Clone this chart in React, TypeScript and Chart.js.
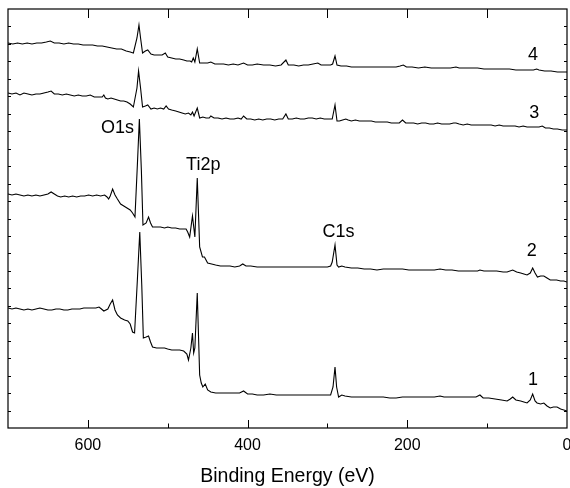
import { useEffect, useRef } from "react";
import { Chart, registerables } from "chart.js";

Chart.register(...registerables);

// ---- data: [binding energy (eV), intensity (a.u.)] for each spectrum ----
const spectrum1: [number, number][] = [
  [700, 120], [695, 119], [690, 120], [685, 119], [680, 118], [675, 119], [670, 118], [665, 119], [660, 120], [655, 119],
  [650, 118], [645, 118], [640, 119], [635, 119], [630, 118], [625, 118], [620, 119], [615, 119], [610, 119], [605, 120],
  [600, 120], [595, 120], [590, 120], [586, 121], [583, 119], [580, 117], [575, 119], [572, 124], [569, 128], [566, 118],
  [563, 113], [559, 110], [554, 108], [550, 107], [547, 104], [544, 96], [541.5, 95], [538, 148], [535, 196], [532.5, 143],
  [530.5, 90], [527, 91], [524, 92], [521.5, 86], [519, 81], [514, 80], [509, 80], [504, 80], [500, 79], [495, 78],
  [490, 78], [485, 78], [480, 77], [476, 74], [474, 68], [471, 80], [469, 95], [467.5, 75], [466, 80], [463, 135],
  [460, 53], [458, 45], [456, 41], [453, 44], [450, 38], [446, 36], [440, 35], [434, 35], [428, 35], [422, 35],
  [416, 35], [410, 35], [405, 37], [400, 34], [394, 34], [388, 33], [380, 33], [372, 34], [364, 33], [356, 33],
  [348, 33], [340, 33], [332, 33], [324, 33], [316, 33], [308, 33], [300, 33], [296, 33], [293, 41], [290.5, 61],
  [288.5, 41], [286, 31], [282, 33], [278, 32], [270, 31], [262, 31], [254, 31], [246, 31], [238, 31], [230, 31],
  [222, 30], [214, 30], [206, 31], [198, 31], [190, 31], [182, 31], [174, 31], [166, 31], [159, 32], [154, 31],
  [146, 31], [138, 31], [130, 31], [122, 31], [114, 31], [109, 33], [105, 30], [98, 30], [90, 29], [82, 28],
  [75, 27], [71, 29], [68, 31], [64, 28], [58, 27], [54, 26], [50, 25], [46, 28], [43, 34], [40, 27],
  [37.5, 25], [33, 24], [29, 25], [25, 22], [21, 20], [17, 21], [12.5, 21], [8, 19], [4, 18], [0, 17],
];

const spectrum2: [number, number][] = [
  [700, 234], [695, 233], [690, 234], [685, 233], [680, 232], [675, 233], [670, 232], [665, 233], [660, 232], [655, 233],
  [650, 234], [646, 236], [642, 234], [638, 232], [634, 231], [629, 232], [624, 231], [619, 232], [614, 231], [609, 232],
  [604, 232], [599, 233], [594, 232], [589, 233], [584, 232], [579, 233], [576, 231], [574, 229], [572, 232], [569, 239],
  [566, 233], [563, 229], [559, 224], [555, 222], [551, 220], [547, 218], [544, 215], [541, 211], [538, 263], [535.5, 309],
  [533, 258], [531, 203], [527, 205], [524, 211], [521.5, 205], [519, 201], [514, 201], [509, 201], [504, 200], [500, 201],
  [495, 200], [490, 200], [485, 199], [480, 199], [477, 199], [475, 196], [472.5, 191], [469, 212], [466, 191], [463, 250],
  [460, 181], [456.5, 171], [454, 171], [450, 165], [445, 164], [440, 163], [434, 162], [428, 162], [422, 162], [416, 161],
  [410, 162], [406, 164], [402, 162], [396, 162], [388, 161], [380, 161], [372, 161], [364, 161], [356, 161], [348, 161],
  [340, 161], [332, 161], [324, 161], [316, 161], [308, 161], [300, 161], [296, 162], [294, 166], [290.5, 183], [288, 163],
  [286, 161], [282, 162], [278, 161], [270, 160], [262, 160], [254, 159], [246, 159], [238, 158], [230, 159], [222, 159],
  [214, 159], [206, 159], [198, 158], [190, 158], [182, 158], [174, 158], [166, 158], [159, 159], [152, 158], [144, 158],
  [136, 157], [128, 157], [120, 157], [112, 157], [109, 158], [104, 157], [96, 157], [88, 157], [80, 156], [75, 156],
  [68, 158], [63, 156], [58, 155], [54, 154], [50, 153], [46, 155], [43, 160], [40, 155], [37, 151], [33, 152],
  [29, 152], [25, 150], [21, 148], [17, 148], [13, 148], [8, 147], [4, 147], [0, 146],
];

const spectrum3: [number, number][] = [
  [700, 335], [695, 334], [690, 335], [685, 333], [680, 335], [675, 334], [670, 333], [665, 334], [660, 334], [655, 335],
  [650, 336], [646, 337], [642, 334], [637, 334], [632, 333], [627, 334], [622, 333], [617, 332], [612, 333], [607, 332],
  [602, 332], [597, 333], [592, 331], [587, 331], [582, 331], [580, 333], [578, 330], [575, 329], [571, 330], [567, 329],
  [563, 328], [559, 327], [555, 327], [551, 326], [547, 324], [543, 321], [538.5, 340], [536.5, 357], [534, 340], [531.5, 321],
  [528, 322], [525, 323], [521, 319], [517, 320], [513, 319], [509, 320], [505, 319], [502, 322], [499, 319], [495, 318],
  [490, 317], [486, 316], [482, 315], [478, 314], [474, 315], [471, 313], [469, 316], [467, 312], [463, 320], [460, 310],
  [456, 311], [452, 310], [448, 310], [446, 312], [442, 310], [437, 310], [432, 309], [427, 310], [422, 309], [417, 309],
  [412, 310], [408, 309], [405, 312], [401, 309], [396, 309], [391, 308], [386, 309], [381, 308], [376, 309], [371, 309],
  [366, 308], [361, 309], [356, 309], [352, 314], [349, 309], [344, 309], [339, 310], [334, 309], [329, 309], [324, 310],
  [319, 310], [314, 309], [309, 310], [304, 309], [300, 309], [294, 309], [290.5, 323], [288, 307], [285, 307], [281, 308],
  [277, 309], [274, 308], [270, 307], [265, 308], [260, 307], [255, 307], [250, 307], [245, 307], [240, 306], [235, 306],
  [230, 306], [225, 306], [220, 305], [215, 305], [210, 305], [206, 308], [202, 305], [197, 305], [192, 305], [187, 304],
  [182, 305], [177, 305], [172, 304], [167, 304], [162, 305], [157, 304], [152, 304], [147, 304], [142, 305], [139, 305],
  [135, 304], [130, 303], [125, 304], [120, 303], [115, 303], [110, 303], [105, 303], [100, 303], [95, 303], [90, 302],
  [85, 303], [80, 302], [75, 302], [70, 302], [65, 302], [60, 301], [55, 302], [50, 301], [45, 301], [40, 301],
  [35, 301], [31, 302], [27, 300], [22, 300], [17, 299], [12, 299], [6, 298], [0, 298],
];

const spectrum4: [number, number][] = [
  [700, 385], [694, 384], [688, 385], [682, 384], [676, 385], [670, 384], [664, 385], [658, 385], [652, 386], [647, 387],
  [642, 385], [636, 385], [630, 384], [624, 385], [618, 384], [612, 384], [606, 383], [600, 383], [594, 383], [588, 382],
  [582, 382], [576, 381], [570, 380], [564, 379], [558, 379], [552, 377], [547, 376], [543, 375], [538.5, 390], [536, 403],
  [534, 390], [531.5, 375], [528, 377], [525, 378], [521, 374], [517, 373], [512, 373], [507, 373], [503, 375], [500, 371],
  [495, 370], [490, 369], [485, 369], [480, 368], [476, 367], [472, 367], [470, 366], [468, 370], [466, 366], [463, 379],
  [460, 365], [455, 365], [450, 365], [446, 366], [441, 364], [435, 364], [430, 364], [424, 363], [418, 364], [412, 363],
  [405, 365], [400, 363], [394, 363], [388, 364], [380, 363], [372, 363], [365, 362], [358, 363], [352, 368], [349, 363],
  [342, 363], [336, 362], [330, 363], [324, 363], [318, 364], [312, 365], [308, 363], [302, 363], [296, 363], [293.5, 364],
  [290.5, 372], [288, 363], [283, 362], [276, 362], [270, 361], [262, 361], [254, 361], [246, 361], [238, 361], [230, 361],
  [222, 361], [214, 361], [209, 362], [205, 363], [201, 361], [194, 361], [186, 360], [178, 361], [170, 360], [162, 360],
  [154, 360], [146, 360], [139, 361], [135, 360], [128, 360], [120, 360], [112, 360], [104, 359], [96, 359], [88, 359],
  [80, 359], [72, 359], [64, 358], [56, 358], [48, 358], [42, 358], [38, 359], [35, 358], [28, 357], [20, 357],
  [12, 356], [6, 356], [0, 356],
];

const xTickValues = [600, 400, 200, 0];
const xMinorTickValues = [700, 500, 300, 100];
const xAxisTitle = "Binding Energy (eV)";

const labelTexts = ["O1s", "Ti2p", "C1s", "4", "3", "2", "1"];
const labelEnergy = [563, 455.5, 286, 42.5, 41, 44, 42.5];
const labelCounts = [295, 258, 191, 368, 310, 172, 43];

const Y_MAX = 419;
const FONT = "'Liberation Sans', Arial, Helvetica, sans-serif";

const toPoints = (s: [number, number][]) => s.map(([x, y]) => ({ x, y }));

const framePlugin = {
  id: "xpsFrame",
  afterDatasetsDraw(chart: any) {
    const { ctx, chartArea } = chart;
    const { left, right, top, bottom } = chartArea;
    const xs = chart.scales.x;
    const ys = chart.scales.y;
    ctx.save();
    ctx.strokeStyle = "#000";
    ctx.lineWidth = 1.2;
    ctx.strokeRect(left, top, right - left, bottom - top);
    ctx.lineWidth = 1;
    ctx.beginPath();
    const all = [...xTickValues, ...xMinorTickValues];
    for (const v of all) {
      const px = Math.round(xs.getPixelForValue(v)) + 0.5;
      if (px <= left + 1 || px >= right - 1) continue;
      const major = xTickValues.includes(v);
      ctx.moveTo(px, bottom);
      ctx.lineTo(px, bottom - (major ? 8 : 4.5));
      ctx.moveTo(px, top);
      ctx.lineTo(px, top + 9);
    }
    for (let i = 1; i < 24; i++) {
      const py = Math.round(ys.getPixelForValue((i * Y_MAX) / 24)) + 0.5;
      ctx.moveTo(left, py);
      ctx.lineTo(left + 3, py);
      ctx.moveTo(right, py);
      ctx.lineTo(right - 3, py);
    }
    ctx.stroke();

    ctx.fillStyle = "#000";
    ctx.font = `18px ${FONT}`;
    ctx.textAlign = "center";
    ctx.textBaseline = "alphabetic";
    labelTexts.forEach((t, i) => {
      ctx.fillText(t, xs.getPixelForValue(labelEnergy[i]), ys.getPixelForValue(labelCounts[i]));
    });
    ctx.restore();
  },
};

export default function App() {
  const ref = useRef<HTMLCanvasElement | null>(null);
  useEffect(() => {
    if (!ref.current) return;
    const lineStyle = {
      borderColor: "#000",
      borderWidth: 1.1,
      pointRadius: 0,
      tension: 0,
      fill: false,
    };
    const chart = new Chart(ref.current, {
      type: "line",
      data: {
        datasets: [
          { label: "1", data: toPoints(spectrum1), ...lineStyle },
          { label: "2", data: toPoints(spectrum2), ...lineStyle },
          { label: "3", data: toPoints(spectrum3), ...lineStyle },
          { label: "4", data: toPoints(spectrum4), ...lineStyle },
        ],
      },
      options: {
        animation: false,
        responsive: false,
        devicePixelRatio: 1,
        layout: { padding: { left: 8, right: 3, top: 9, bottom: 0 } },
        plugins: { legend: { display: false }, tooltip: { enabled: false } },
        scales: {
          x: {
            type: "linear",
            min: 0,
            max: 700,
            reverse: true,
            position: "bottom",
            grid: { display: false, drawTicks: false },
            border: { display: false },
            ticks: {
              color: "#000",
              font: { size: 16, family: FONT },
              padding: 8,
              maxRotation: 0,
              autoSkip: false,
            },
            title: {
              display: true,
              text: xAxisTitle,
              color: "#000",
              font: { size: 19.5, family: FONT },
              padding: { top: 0, bottom: 0 },
            },
            afterBuildTicks: (s: any) => {
              s.ticks = xTickValues.map((v) => ({ value: v }));
            },
            afterFit: (s: any) => {
              s.height = 60;
              s.paddingLeft = 0;
              s.paddingRight = 0;
            },
          },
          y: {
            type: "linear",
            display: false,
            min: 0,
            max: Y_MAX,
          },
        },
      },
      plugins: [framePlugin],
    } as any);
    return () => chart.destroy();
  }, []);
  return (
    <div style={{ position: "fixed", left: 0, top: 0, width: 570, height: 488, background: "#fff" }}>
      <canvas ref={ref} width={570} height={488} style={{ display: "block" }} />
    </div>
  );
}
